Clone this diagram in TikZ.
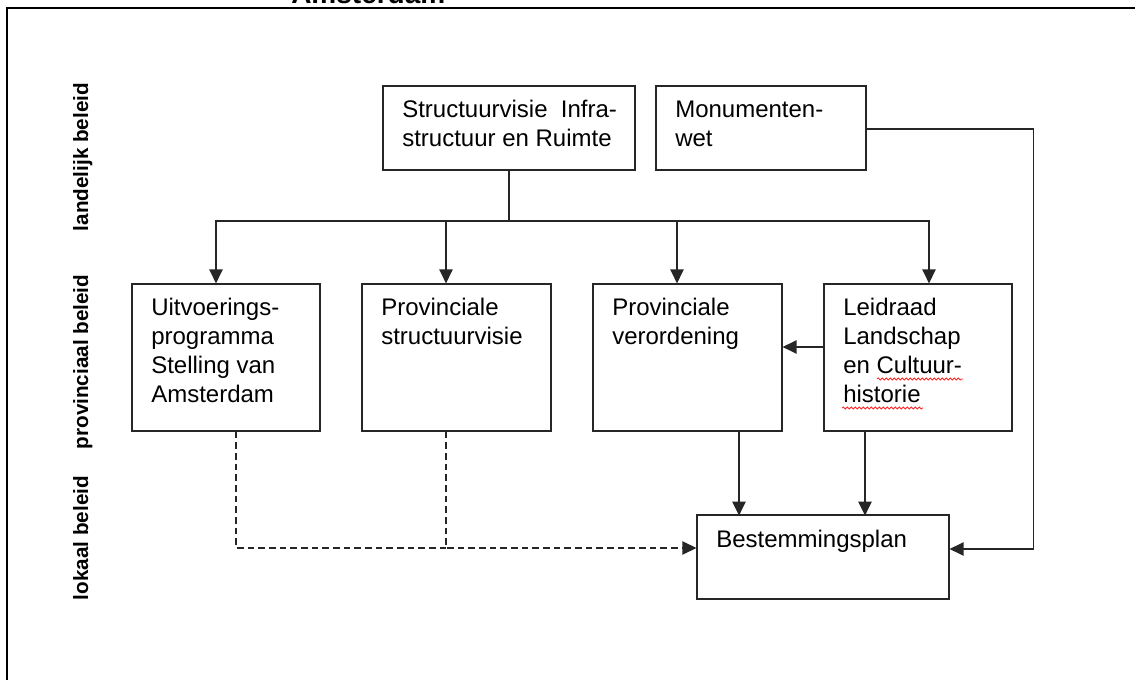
\documentclass[tikz,border=0pt]{standalone}
\usepackage{fontspec}
\setmainfont{Liberation Sans}
\usetikzlibrary{arrows.meta,calc,decorations.pathmorphing}
\begin{document}
\begin{tikzpicture}[x=0.75pt,y=-0.75pt,
  box/.style={draw=black!85,line width=0.9pt,inner sep=0pt,minimum width=#1},
  txt/.style={anchor=base west,inner sep=0pt,align=left,font=\fontsize{18}{21.75}\selectfont},
  side/.style={rotate=90,anchor=base,inner sep=0pt,font=\fontsize{15.5}{18}\selectfont\bfseries},
  conn/.style={draw=black!85,line width=1pt},
  arr/.style={conn,-{Triangle[length=10.5pt,width=10pt]}},
  dash arr/.style={arr,dash pattern=on 5pt off 3pt},
  wavy/.style={draw=red!85,line width=0.6pt,decorate,decoration={snake,amplitude=0.8pt,segment length=3pt}}]
\useasboundingbox (0,0) rectangle (1135,680);
\fill[white] (0,0) rectangle (1135,680);
% frame and cut-off title
\node[anchor=base west,inner sep=0pt,font=\fontsize{21}{24}\selectfont\bfseries] (title) at (291,3.5) {Amsterdam};
\draw[line width=1.4pt] (6,8) -- (1135,8);
\draw[line width=0.8pt] (7,8) -- (7,680);
% side labels
\node[side] (l1) at (88,157) {landelijk beleid};
\node[side] (l2) at (88,362) {provinciaal beleid};
\node[side] (l3) at (88,538) {lokaal beleid};
% boxes
\node[box=189pt,minimum height=63pt] (sv) at (509,128) {};
\node[box=157.5pt,minimum height=63pt] (mon) at (761,128) {};
\node[box=141pt,minimum height=110.25pt] (uit) at (226,357.5) {};
\node[box=141.75pt,minimum height=110.25pt] (ps) at (456.5,357.5) {};
\node[box=141.75pt,minimum height=110.25pt] (vo) at (687.5,357.5) {};
\node[box=141pt,minimum height=110.25pt] (ld) at (918,357.5) {};
\node[box=189pt,minimum height=63pt] (bp) at (823,557) {};
% texts (anchored at the baseline of the last line)
\node[txt] (svt) at (402,147) {Structuurvisie\hspace{5pt} Infra-\\structuur en Ruimte};
\node[txt] (mont) at (675,147) {Monumenten-\\wet};
\node[txt] (uitt) at (151,403) {Uitvoerings-\\programma\\Stelling van\\Amsterdam};
\node[txt] (pst) at (381,345) {Provinciale\\structuurvisie};
\node[txt] (vot) at (612,345) {Provinciale\\verordening};
\node[txt] (ldt) at (843,403) {Leidraad\\Landschap\\en Cultuur-\\historie};
\node[txt] (bpt) at (716,547) {Bestemmingsplan};
\draw[wavy] (877,379) -- (963,379);
\draw[wavy] (842,408) -- (923,408);
% connectors
\coordinate (bus) at (509,221);
\draw[conn] (sv.south) -- (bus);
\draw[arr] (bus) -| ($(uit.north)+(-10,0)$);
\draw[arr] (bus) -| ($(ps.north)+(-10.5,0)$);
\draw[arr] (bus) -| ($(vo.north)+(-10.5,0)$);
\draw[arr] (bus) -| ($(ld.north)+(11,0)$);
\draw[arr] ($(ld.west)+(0,-10.5)$) -- ($(vo.east)+(0,-10.5)$);
\draw[arr] ($(vo.south)+(51.5,0)$) -- ++(0,84);
\draw[arr] ($(ld.south)+(-53,0)$) -- ++(0,84);
\draw[arr] ($(mon.east)+(0,1)$) -- ++(167,0) |- ($(bp.east)+(0,-8)$);
\coordinate (dj) at (446,548);
\draw[conn,dash pattern=on 5pt off 3pt] ($(uit.south)+(10,0)$) |- (dj);
\draw[dash arr] ($(ps.south)+(-10.5,0)$) |- ($(bp.west)+(0,-9)$);
\end{tikzpicture}
\end{document}
